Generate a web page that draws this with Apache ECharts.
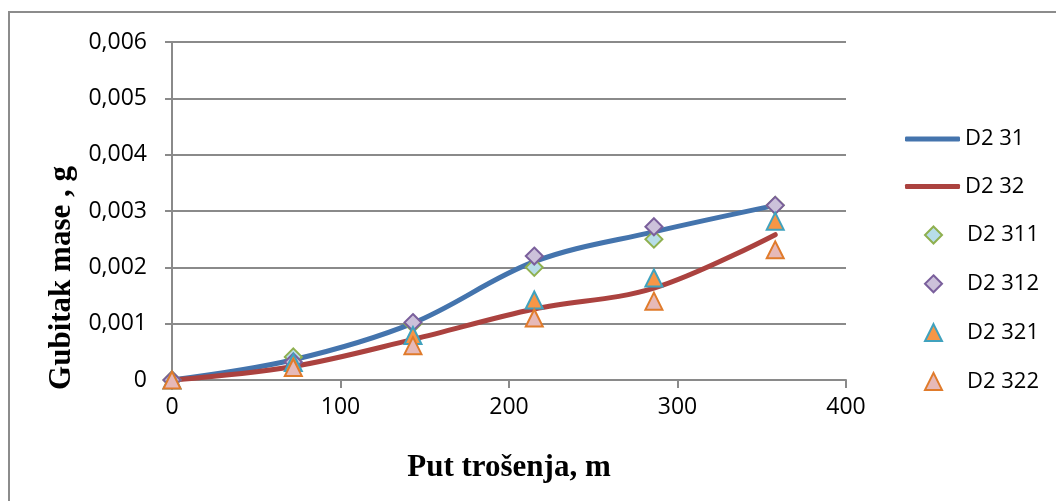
<!DOCTYPE html>
<html>
<head>
<meta charset="utf-8">
<script src="https://cdn.jsdelivr.net/npm/echarts@6/dist/echarts.min.js"></script>
<style>
html,body{margin:0;padding:0;background:#fff;}
#chart{width:1056px;height:501px;}
</style>
</head>
<body>
<div id="chart"></div>
<script>
const xValues = [0, 72, 143, 215, 286, 358];
const d231 = [0, 0.00036, 0.00101, 0.0021, 0.00263, 0.0031];
const d232 = [0, 0.00024, 0.00072, 0.00126, 0.00163, 0.00258];
const d2311 = [0, 0.00041, 0.001, 0.002, 0.0025, 0.0031];
const d2312 = [0, 0.00032, 0.00102, 0.0022, 0.00272, 0.0031];
const d2321 = [0, 0.00031, 0.00079, 0.00142, 0.00181, 0.00282];
const d2322 = [0, 0.00022, 0.00061, 0.0011, 0.0014, 0.00231];
const seriesNames = ['D2 31', 'D2 32', 'D2 311', 'D2 312', 'D2 321', 'D2 322'];
const xTitle = 'Put trošenja, m';
const yTitle = 'Gubitak mase , g';

const pairs = arr => xValues.map((x, i) => [x, arr[i]]);
const labelFont = '"Open Sans", sans-serif';
const gridColor = '#8a8a8a';
const legendText = {fontFamily: labelFont, fontSize: 22, color: '#000'};

const chart = echarts.init(document.getElementById('chart'), null, {renderer: 'canvas'});
chart.setOption({
  animation: false,
  backgroundColor: '#fff',
  grid: {left: 172, right: 210, top: 42, bottom: 121},
  graphic: [
    {type: 'rect', shape: {x: 9, y: 12, width: 1100, height: 600},
     style: {fill: 'none', stroke: '#8c8c8c', lineWidth: 2}, silent: true, z: -1},
    {type: 'text', x: 62, y: 278, rotation: Math.PI / 2,
     style: {text: yTitle, font: 'bold 31px "Liberation Serif", serif', fill: '#000',
             align: 'center', verticalAlign: 'middle'}}
  ],
  legend: [
    {
      orient: 'vertical', left: 905, top: 128, padding: 0, itemWidth: 55, itemHeight: 5, itemGap: 25.5,
      textStyle: legendText,
      data: [{name: seriesNames[0], icon: 'roundRect'}, {name: seriesNames[1], icon: 'roundRect'}]
    },
    {
      orient: 'vertical', left: 924, top: 224, padding: 0, itemWidth: 17, itemHeight: 17, itemGap: 26.8,
      textStyle: Object.assign({padding: [0, 0, 0, 20]}, legendText),
      data: seriesNames.slice(2)
    }
  ],
  xAxis: {
    type: 'value', min: 0, max: 400, interval: 100,
    name: xTitle, nameLocation: 'middle', nameGap: 72,
    nameTextStyle: {fontFamily: '"Liberation Serif", serif', fontWeight: 'bold', fontSize: 31, color: '#000'},
    axisLine: {lineStyle: {color: gridColor, width: 2}},
    axisTick: {show: true, length: 8, lineStyle: {color: gridColor, width: 2}},
    axisLabel: {fontFamily: labelFont, fontSize: 23, color: '#000', margin: 16},
    splitLine: {show: false}
  },
  yAxis: {
    type: 'value', min: 0, max: 0.006, interval: 0.001,
    axisLine: {show: true, lineStyle: {color: gridColor, width: 2}},
    axisTick: {show: true, length: 7, lineStyle: {color: gridColor, width: 2}},
    axisLabel: {fontFamily: labelFont, fontSize: 23, color: '#000', margin: 25,
      formatter: v => v === 0 ? '0' : v.toFixed(3).replace('.', ',')},
    splitLine: {show: true, lineStyle: {color: gridColor, width: 2}}
  },
  series: [
    {name: seriesNames[0], type: 'line', data: pairs(d231), smooth: 0.35, symbol: 'none',
     lineStyle: {color: '#4474ad', width: 5, cap: 'round'}, itemStyle: {color: '#4474ad'}, z: 2},
    {name: seriesNames[1], type: 'line', data: pairs(d232), smooth: 0.35, symbol: 'none',
     lineStyle: {color: '#ab423f', width: 5, cap: 'round'}, itemStyle: {color: '#ab423f'}, z: 2},
    {name: seriesNames[2], type: 'scatter', data: pairs(d2311), symbol: 'diamond', symbolSize: 17,
     itemStyle: {color: '#b7dde8', borderColor: '#8fb04f', borderWidth: 2, opacity: 1}, z: 3},
    {name: seriesNames[3], type: 'scatter', data: pairs(d2312), symbol: 'diamond', symbolSize: 17,
     itemStyle: {color: '#ccc1da', borderColor: '#7a5f9c', borderWidth: 2, opacity: 1}, z: 3},
    {name: seriesNames[4], type: 'scatter', data: pairs(d2321), symbol: 'triangle', symbolSize: 17,
     itemStyle: {color: '#f79646', borderColor: '#40a2be', borderWidth: 2, opacity: 1}, z: 3},
    {name: seriesNames[5], type: 'scatter', data: pairs(d2322), symbol: 'triangle', symbolSize: 17,
     itemStyle: {color: '#e6b9b8', borderColor: '#e07b2b', borderWidth: 2, opacity: 1}, z: 3}
  ]
});
</script>
</body>
</html>
